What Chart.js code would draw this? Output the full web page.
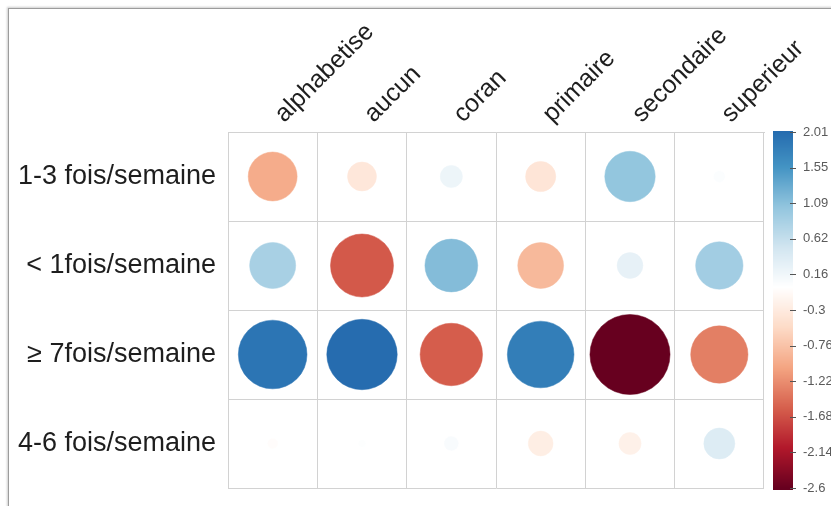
<!DOCTYPE html>
<html>
<head>
<meta charset="utf-8">
<title>Fréquence et niveau d'instruction</title>
<script src="https://cdn.jsdelivr.net/npm/chart.js@4.4.1/dist/chart.umd.min.js"></script>
<style>
  body { margin: 0; background: #fff; }
  #wrap { position: relative; width: 831px; height: 506px; overflow: hidden; }
  #frame {
    position: absolute; left: 8px; top: 8px; right: -6px; bottom: -6px;
    border-top: 1px solid #9c9c9c; border-left: 1px solid #9c9c9c;
    box-shadow: -1px -1px 2px rgba(0, 0, 0, 0.2);
  }
  canvas { position: absolute; left: 0; top: 0; }
</style>
</head>
<body>
<div id="wrap">
  <div id="frame"></div>
  <canvas id="myChart" width="831" height="506"></canvas>
</div>
<script>
// niveaux d'instruction (colonnes) et fréquences (lignes)
const niveaux = ['alphabetise', 'aucun', 'coran', 'primaire', 'secondaire', 'superieur'];
const frequences = ['1-3 fois/semaine', '< 1fois/semaine', '≥ 7fois/semaine', '4-6 fois/semaine'];

// valeurs par ligne, dans l'ordre des colonnes
const val1a3 = [-0.97, -0.34, 0.20, -0.37, 1.03, 0.05];
const valMoins1 = [0.86, -1.61, 1.13, -0.85, 0.27, 0.91];
const val7plus = [1.91, 2.01, -1.58, 1.80, -2.60, -1.33];
const val4a6 = [-0.04, 0.02, 0.08, -0.25, -0.20, 0.39];
const lignes = [val1a3, valMoins1, val7plus, val4a6];

// barre de couleur
const cbMin = -2.6;
const cbMax = 2.01;
const cbTicks = [2.01, 1.549, 1.088, 0.627, 0.166, -0.295, -0.756, -1.217, -1.678, -2.139, -2.6];
const cbLabels = ['2.01', '1.55', '1.09', '0.62', '0.16', '-0.3', '-0.76', '-1.22', '-1.68', '-2.14', '-2.6'];

const vmax = Math.max(Math.abs(cbMin), Math.abs(cbMax));

// palette RdBu (rouge -> blanc -> bleu)
const rdbu = ['#67001F', '#B2182B', '#D6604D', '#F4A582', '#FDDBC7', '#FFFFFF',
              '#D1E5F0', '#92C5DE', '#4393C3', '#2166AC', '#053061'];

function hexToRgb(h) {
  return [parseInt(h.slice(1, 3), 16), parseInt(h.slice(3, 5), 16), parseInt(h.slice(5, 7), 16)];
}
const rdbuRgb = rdbu.map(hexToRgb);

function couleur(v) {
  let t = (v / vmax + 1) / 2;           // 0..1
  t = Math.min(1, Math.max(0, t));
  const pos = t * (rdbuRgb.length - 1);
  const i = Math.min(rdbuRgb.length - 2, Math.floor(pos));
  const f = pos - i;
  const a = rdbuRgb[i], b = rdbuRgb[i + 1];
  const c = a.map((x, k) => Math.round(x + (b[k] - x) * f));
  return `rgb(${c[0]},${c[1]},${c[2]})`;
}

// un cercle par cellule
const points = [];
lignes.forEach((ligne, r) => {
  ligne.forEach((v, c) => {
    points.push({ x: niveaux[c], y: frequences[r], v: v });
  });
});

// la marge des libellés ne doit pas rogner la zone du graphique
function sansMarge(s) {
  s.paddingTop = 0;
  s.paddingBottom = 0;
  s.paddingLeft = 0;
  s.paddingRight = 0;
}

// rayon : aire du cercle proportionnelle à |valeur|
function rayon(c) {
  const area = c.chart.chartArea;
  if (!area || !c.raw) return 0;
  const cw = (area.right - area.left) / niveaux.length;
  const ch = (area.bottom - area.top) / frequences.length;
  return Math.min(cw, ch) * 0.45 * Math.sqrt(Math.abs(c.raw.v) / vmax);
}

// dessine la barre de couleur le long de l'axe "cb"
const barreCouleur = {
  id: 'barreCouleur',
  afterDraw(chart) {
    const s = chart.scales.cb;
    const ctx = chart.ctx;
    const x0 = s.left + 9;
    const w = 20;
    ctx.save();
    for (let y = Math.floor(s.top) - 1; y < Math.ceil(s.bottom) + 2; y++) {
      ctx.fillStyle = couleur(s.getValueForPixel(y + 0.5));
      ctx.fillRect(x0, y, w, 1);
    }
    ctx.strokeStyle = '#555';
    ctx.lineWidth = 1;
    s.ticks.forEach(t => {
      const y = Math.round(s.getPixelForValue(t.value)) + 0.5;
      ctx.beginPath();
      ctx.moveTo(x0 + w - 3, y);
      ctx.lineTo(x0 + w + 3, y);
      ctx.stroke();
    });
    ctx.restore();
  }
};

const police = "'Liberation Sans', Arial, sans-serif";
const gris = '#d2d2d2';

const ctx = document.getElementById('myChart').getContext('2d');
new Chart(ctx, {
  type: 'scatter',
  data: {
    datasets: [{
      data: points,
      showLine: false,
      pointBackgroundColor: c => c.raw ? couleur(c.raw.v) : 'transparent',
      pointBorderColor: c => c.raw ? couleur(c.raw.v) : 'transparent',
      pointBorderWidth: 0.5,
      pointRadius: rayon,
      pointHoverRadius: rayon
    }]
  },
  options: {
    responsive: false,
    animation: false,
    events: [],
    layout: { padding: { left: 0, top: 0, right: 0, bottom: 18 } },
    plugins: {
      legend: { display: false },
      tooltip: { enabled: false }
    },
    scales: {
      x: {
        type: 'category',
        labels: niveaux,
        position: 'top',
        offset: true,
        grid: { offset: true, color: gris, drawTicks: false },
        border: { color: gris },
        ticks: {
          minRotation: 45,
          maxRotation: 45,
          padding: 3,
          labelOffset: 28,
          color: '#1e1e1e',
          font: { family: police, size: 25 }
        },
        afterFit(s) { s.height = 132; sansMarge(s); }
      },
      y: {
        type: 'category',
        labels: frequences,
        offset: true,
        grid: { offset: true, color: gris, drawTicks: false },
        border: { color: gris },
        ticks: {
          padding: 12,
          color: '#1e1e1e',
          font: { family: police, size: 27 }
        },
        afterFit(s) { s.width = 228; sansMarge(s); }
      },
      cb: {
        type: 'linear',
        position: 'right',
        min: cbMin,
        max: cbMax,
        grid: { display: false },
        border: { display: false },
        afterBuildTicks(s) { s.ticks = cbTicks.map(v => ({ value: v })); },
        ticks: {
          autoSkip: false,
          padding: 31,
          color: '#5a5a5a',
          font: { family: police, size: 13 },
          callback: (v, i) => cbLabels[i]
        },
        afterFit(s) { s.width = 67; sansMarge(s); }
      }
    }
  },
  plugins: [barreCouleur]
});
</script>
</body>
</html>
